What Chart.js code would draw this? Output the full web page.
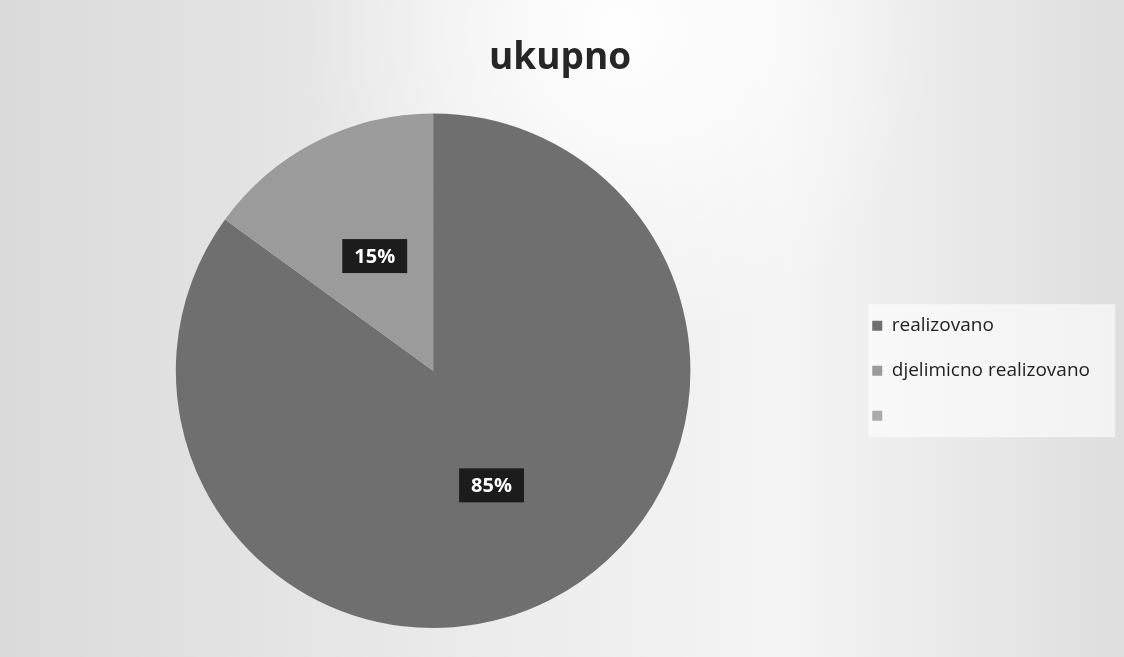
<!DOCTYPE html>
<html>
<head>
<meta charset="utf-8">
<script src="https://cdn.jsdelivr.net/npm/chart.js@4"></script>
<style>
  body { margin: 0; background: #e4e4e4; }
  canvas { display: block; }
</style>
</head>
<body>
<canvas id="chart-ukupno" width="1124" height="657"></canvas>
<script>
const naslov = 'ukupno';
const kategorije = ['realizovano', 'djelimicno realizovano', ''];
const procenti = [85, 15, 0];
const boje = ['#6f6f6f', '#9b9b9b', '#ababab'];

// pozadina kao na skeniranoj slici
const pozadina = {
    id: 'pozadina',
    beforeDraw(chart) {
        const c = chart.ctx;
        const w = chart.width, h = chart.height;
        c.save();
        const g = c.createLinearGradient(0, 0, w, 0);
        g.addColorStop(0, '#dadada');
        g.addColorStop(0.45, '#ececec');
        g.addColorStop(0.7, '#f4f4f4');
        g.addColorStop(1, '#dedede');
        c.fillStyle = g;
        c.fillRect(0, 0, w, h);
        const r = c.createRadialGradient(w * 0.55, 30, 10, w * 0.55, 30, 320);
        r.addColorStop(0, 'rgba(255,255,255,0.95)');
        r.addColorStop(1, 'rgba(255,255,255,0)');
        c.fillStyle = r;
        c.fillRect(0, 0, w, h);
        // svijetla kutija iza legende
        const boxes = chart.legend.legendHitBoxes || [];
        if (boxes.length) {
            const top = boxes[0].top, last = boxes[boxes.length - 1];
            const left = boxes[0].left;
            c.fillStyle = 'rgba(255,255,255,0.6)';
            c.fillRect(left - 4, top - 12, 247, last.top + last.height - top + 24);
        }
        c.restore();
    }
};

// tamne kutije sa procentima
const oznake = {
    id: 'oznake',
    afterDatasetsDraw(chart) {
        const c = chart.ctx;
        const meta = chart.getDatasetMeta(0);
        c.save();
        c.font = 'bold 20px "Open Sans", sans-serif';
        c.textAlign = 'center';
        c.textBaseline = 'middle';
        meta.data.forEach((arc, i) => {
            const v = procenti[i];
            if (!v) return;
            const p = arc.tooltipPosition();
            const txt = v + '%';
            const tw = c.measureText(txt).width;
            c.fillStyle = '#1c1c1c';
            c.fillRect(p.x - tw / 2 - 12, p.y - 17, tw + 24, 34);
            c.fillStyle = '#ffffff';
            c.fillText(txt, p.x, p.y + 1);
        });
        c.restore();
    }
};

const ctx = document.getElementById('chart-ukupno');
new Chart(ctx, {
    type: 'pie',
    data: {
        labels: kategorije,
        datasets: [
            {
                label: naslov,
                data: procenti,
                backgroundColor: boje,
                borderWidth: 0
            }
        ]
    },
    options: {
        responsive: false,
        animation: false,
        layout: { padding: { top: 21, bottom: 29, left: 20, right: 24 } },
        plugins: {
            title: {
                display: true,
                text: naslov,
                color: '#262626',
                font: { family: '"Open Sans", sans-serif', size: 37, weight: 'bold' },
                padding: { top: 15, bottom: 33 }
            },
            legend: {
                position: 'right',
                fullSize: false,
                labels: {
                    boxWidth: 10,
                    boxHeight: 10,
                    padding: 26,
                    color: '#222',
                    font: { family: '"Open Sans", sans-serif', size: 19 }
                }
            },
            tooltip: { enabled: false }
        }
    },
    plugins: [pozadina, oznake]
});
</script>
</body>
</html>
